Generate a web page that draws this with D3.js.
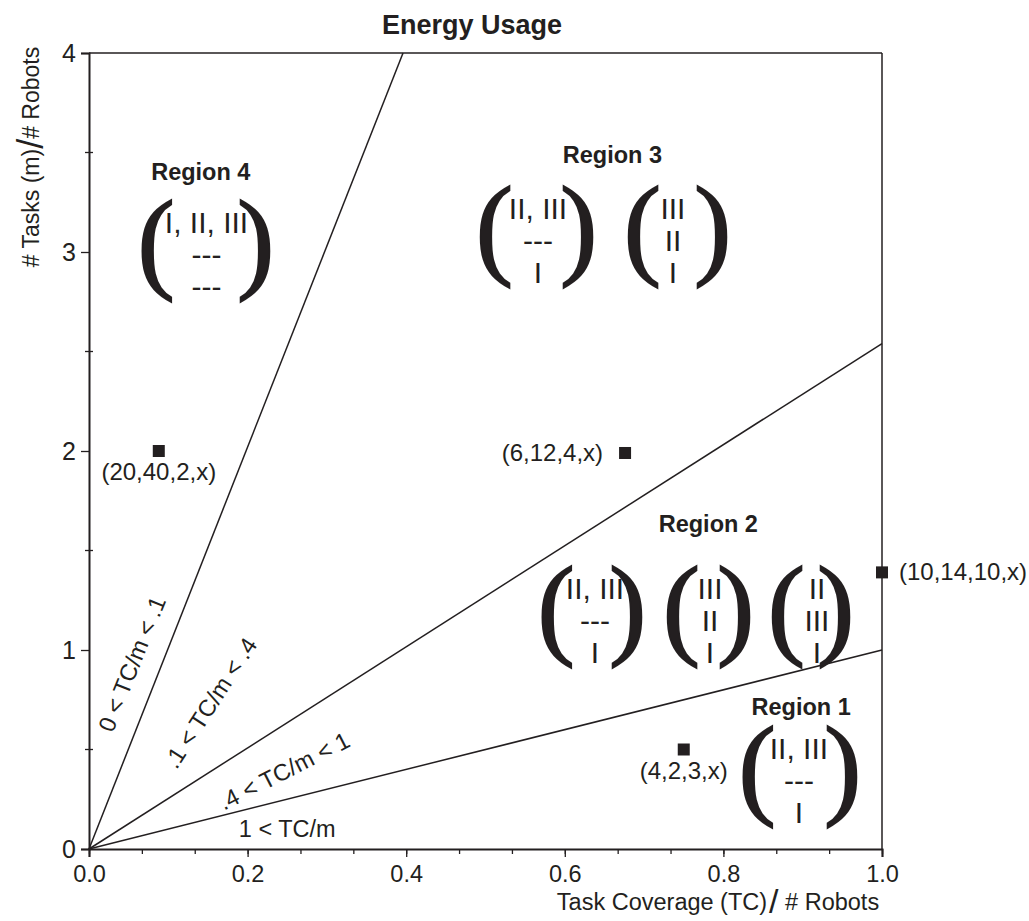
<!DOCTYPE html>
<html>
<head>
<meta charset="utf-8">
<script src="https://cdn.jsdelivr.net/npm/d3@7"></script>
<style>
  body { margin: 0; background: #fff; }
  text { font-family: "Liberation Sans", Arial, sans-serif; fill: #231f20; }
</style>
</head>
<body>
<div id="chart"></div>
<script>
// axis ticks
const xTicks = [0, 0.2, 0.4, 0.6, 0.8, 1.0];
const yTicks = [0, 1, 2, 3, 4];
const yMinorTicks = [0.5, 1.5, 2.5, 3.5];

// boundary lines from the origin (end points)
const boundaryEndX = [0.396, 1.0, 1.0];
const boundaryEndY = [4.0, 2.54, 1.0];

// labels between boundaries
const bandLabels = ["0 < TC/m < .1", ".1 < TC/m < .4", ".4 < TC/m < 1", "1 < TC/m"];
const bandLabelX = [0.054, 0.153, 0.246, 0.25];
const bandLabelY = [0.93, 0.734, 0.392, 0.10];
const bandLabelAngle = [-68, -57, -27, 0];

// sample points
const pointX = [0.088, 0.676, 1.0, 0.75];
const pointY = [2.0, 1.99, 1.39, 0.5];
const pointLabels = ["(20,40,2,x)", "(6,12,4,x)", "(10,14,10,x)", "(4,2,3,x)"];
const pointLabelSide = ["below", "left", "right", "below"];

// region titles
const regionNames = ["Region 4", "Region 3", "Region 2", "Region 1"];
const regionX = [0.141, 0.660, 0.781, 0.898];
const regionY = [3.36, 3.447, 1.593, 0.673];

// orderings shown in brackets
const matrixRows = [
  ["I, II, III", "---", "---"],
  ["II, III", "---", "I"],
  ["III", "II", "I"],
  ["II, III", "---", "I"],
  ["III", "II", "I"],
  ["II", "III", "I"],
  ["II, III", "---", "I"]
];
const matrixLeft = [0.0668, 0.4931, 0.6797, 0.5712, 0.7289, 0.8613, 0.8247];
const matrixRight = [0.2283, 0.6356, 0.8045, 0.6974, 0.8335, 0.9596, 0.9685];
const matrixCenter = [0.1482, 0.5662, 0.7364, 0.6381, 0.7831, 0.918, 0.8953];
const matrixTop = [3.251, 3.322, 3.322, 1.412, 1.412, 1.412, 0.608];

const margin = { top: 53, right: 147, bottom: 72, left: 89 };
const width = 1029 - margin.left - margin.right;
const height = 921 - margin.top - margin.bottom;

const svg = d3.select("#chart")
    .append("svg")
    .attr("width", 1029)
    .attr("height", 921)
    .append("g")
    .attr("transform", `translate(${margin.left},${margin.top})`);

const x = d3.scaleLinear().domain([0, 1]).range([0, width]);
const y = d3.scaleLinear().domain([0, 4]).range([height, 0]);

// frame top and right
svg.append("line").attr("x1", 0).attr("x2", width).attr("y1", 0).attr("y2", 0)
    .attr("stroke", "#231f20").attr("stroke-width", 1.5);
svg.append("line").attr("x1", width).attr("x2", width).attr("y1", 0).attr("y2", height)
    .attr("stroke", "#231f20").attr("stroke-width", 1.5);

// bottom axis with minor ticks
svg.append("g")
    .attr("transform", `translate(0,${height})`)
    .call(d3.axisBottom(x).tickValues(d3.range(0, 16).map(i => i / 15)).tickSize(5).tickFormat(""))
    .call(g => g.select(".domain").remove())
    .selectAll("line").attr("stroke", "#231f20").attr("stroke-width", 1.3);

const xAxis = svg.append("g")
    .attr("transform", `translate(0,${height})`)
    .call(d3.axisBottom(x).tickValues(xTicks).tickSize(8).tickPadding(8).tickFormat(d3.format(".1f")));
xAxis.select(".domain").attr("stroke", "#231f20").attr("stroke-width", 2);
xAxis.selectAll("line").attr("stroke", "#231f20").attr("stroke-width", 1.3);
xAxis.selectAll("text").style("font-size", "23.5px").attr("fill", "#231f20");

// left axis
const yAxis = svg.append("g")
    .call(d3.axisLeft(y).tickValues(yTicks).tickSize(8).tickPadding(5).tickFormat(d3.format("d")));
yAxis.select(".domain").attr("stroke", "#231f20").attr("stroke-width", 2);
yAxis.selectAll("line").attr("stroke", "#231f20").attr("stroke-width", 1.3);
yAxis.selectAll("text").style("font-size", "25px").attr("fill", "#231f20");

svg.append("g").selectAll("line")
    .data(yMinorTicks).enter().append("line")
    .attr("x1", -4).attr("x2", 4)
    .attr("y1", d => y(d)).attr("y2", d => y(d))
    .attr("stroke", "#231f20").attr("stroke-width", 1.3);

// boundary lines
svg.append("g").selectAll("line")
    .data(boundaryEndX).enter().append("line")
    .attr("x1", x(0)).attr("y1", y(0))
    .attr("x2", d => x(d)).attr("y2", (d, i) => y(boundaryEndY[i]))
    .attr("stroke", "#231f20").attr("stroke-width", 1.5);

svg.append("g").selectAll("text")
    .data(bandLabels).enter().append("text")
    .attr("transform", (d, i) => `translate(${x(bandLabelX[i])},${y(bandLabelY[i])}) rotate(${bandLabelAngle[i]})`)
    .attr("text-anchor", "middle")
    .attr("dy", "0.35em")
    .style("font-size", "23.5px")
    .text(d => d);

// points
svg.append("g").selectAll("rect")
    .data(pointX).enter().append("rect")
    .attr("x", d => x(d) - 6)
    .attr("y", (d, i) => y(pointY[i]) - 6)
    .attr("width", 12).attr("height", 12)
    .attr("fill", "#231f20");

svg.append("g").selectAll("text")
    .data(pointLabels).enter().append("text")
    .attr("x", (d, i) => {
        const px = x(pointX[i]);
        if (pointLabelSide[i] === "left") return px - 22;
        if (pointLabelSide[i] === "right") return px + 17;
        return px;
    })
    .attr("y", (d, i) => y(pointY[i]) + (pointLabelSide[i] === "below" ? 29 : 8))
    .attr("text-anchor", (d, i) => pointLabelSide[i] === "left" ? "end" : pointLabelSide[i] === "right" ? "start" : "middle")
    .style("font-size", "24px")
    .text(d => d);

// region titles
svg.append("g").selectAll("text")
    .data(regionNames).enter().append("text")
    .attr("x", (d, i) => x(regionX[i]))
    .attr("y", (d, i) => y(regionY[i]))
    .attr("text-anchor", "middle")
    .style("font-size", "23.5px")
    .style("font-weight", "bold")
    .text(d => d);

// bracketed orderings
const parenSize = 112;
const mats = svg.append("g").selectAll("g")
    .data(matrixRows).enter().append("g");

mats.append("text")
    .attr("x", (d, i) => x(matrixLeft[i]) - 0.048 * parenSize + 1)
    .attr("y", (d, i) => y(matrixTop[i]) + 0.676 * parenSize)
    .style("font-family", "'Liberation Serif', 'Times New Roman', serif")
    .style("font-size", parenSize + "px")
    .attr("stroke", "#231f20").attr("stroke-width", 1.8)
    .text("(");

mats.append("text")
    .attr("x", (d, i) => x(matrixRight[i]) - 0.285 * parenSize - 1)
    .attr("y", (d, i) => y(matrixTop[i]) + 0.676 * parenSize)
    .style("font-family", "'Liberation Serif', 'Times New Roman', serif")
    .style("font-size", parenSize + "px")
    .attr("stroke", "#231f20").attr("stroke-width", 1.8)
    .text(")");

mats.each(function (rows, i) {
    d3.select(this).selectAll(".row")
        .data(rows).enter().append("text")
        .attr("class", "row")
        .attr("x", x(matrixCenter[i]))
        .attr("y", (r, j) => y(matrixTop[i]) + 31 + j * 32)
        .attr("text-anchor", "middle")
        .style("font-size", "30px")
        .text(r => r);
});

// title
svg.append("text")
    .attr("x", 472 - margin.left)
    .attr("y", 34 - margin.top)
    .attr("text-anchor", "middle")
    .style("font-size", "27px")
    .style("font-weight", "bold")
    .text("Energy Usage");

// x axis label
const xLabel = svg.append("text")
    .attr("x", 718 - margin.left)
    .attr("y", 910 - margin.top)
    .attr("text-anchor", "middle")
    .style("font-size", "23.5px");
xLabel.append("tspan").text("Task Coverage (TC)");
xLabel.append("tspan").attr("dx", 2).attr("dy", 3).style("font-size", "34px").text("/");
xLabel.append("tspan").attr("dy", -3).text(" # Robots");

// y axis label
const yLabel = svg.append("text")
    .attr("transform", `translate(${39 - margin.left},${157 - margin.top}) rotate(-90)`)
    .attr("text-anchor", "middle")
    .style("font-size", "23px");
yLabel.append("tspan").text("# Tasks (m)");
yLabel.append("tspan").attr("dy", 4).style("font-size", "36px").text("/");
yLabel.append("tspan").attr("dy", -4).text("# Robots");
</script>
</body>
</html>
